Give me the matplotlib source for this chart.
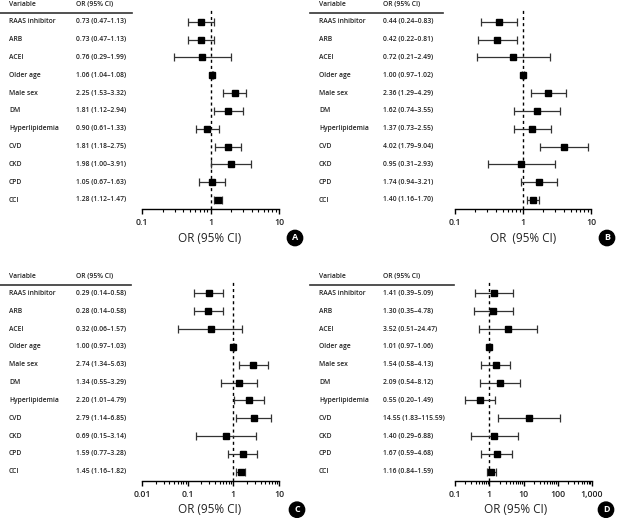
import matplotlib.pyplot as plt
import matplotlib.transforms as mtransforms
from matplotlib.lines import Line2D
from matplotlib.ticker import LogLocator, NullFormatter, FixedLocator, FixedFormatter

variables = ["RAAS inhibitor", "ARB", "ACEI", "Older age", "Male sex", "DM",
             "Hyperlipidemia", "CVD", "CKD", "CPD", "CCI"]

or_a = [0.73, 0.73, 0.76, 1.06, 2.25, 1.81, 0.90, 1.81, 1.98, 1.05, 1.28]
lo_a = [0.47, 0.47, 0.29, 1.04, 1.53, 1.12, 0.61, 1.18, 1.00, 0.67, 1.12]
hi_a = [1.13, 1.13, 1.99, 1.08, 3.32, 2.94, 1.33, 2.75, 3.91, 1.63, 1.47]

or_b = [0.44, 0.42, 0.72, 1.00, 2.36, 1.62, 1.37, 4.02, 0.95, 1.74, 1.40]
lo_b = [0.24, 0.22, 0.21, 0.97, 1.29, 0.74, 0.73, 1.79, 0.31, 0.94, 1.16]
hi_b = [0.83, 0.81, 2.49, 1.02, 4.29, 3.55, 2.55, 9.04, 2.93, 3.21, 1.70]

or_c = [0.29, 0.28, 0.32, 1.00, 2.74, 1.34, 2.20, 2.79, 0.69, 1.59, 1.45]
lo_c = [0.14, 0.14, 0.06, 0.97, 1.34, 0.55, 1.01, 1.14, 0.15, 0.77, 1.16]
hi_c = [0.58, 0.58, 1.57, 1.03, 5.63, 3.29, 4.79, 6.85, 3.14, 3.28, 1.82]

or_d = [1.41, 1.30, 3.52, 1.01, 1.54, 2.09, 0.55, 14.55, 1.40, 1.67, 1.16]
lo_d = [0.39, 0.35, 0.51, 0.97, 0.58, 0.54, 0.20, 1.83, 0.29, 0.59, 0.84]
hi_d = [5.09, 4.78, 24.47, 1.06, 4.13, 8.12, 1.49, 115.59, 6.88, 4.68, 1.59]

W, H = 617, 518
fig = plt.figure(figsize=(W / 100, H / 100), dpi=100)
plt.rcParams['font.family'] = ['Open Sans', 'DejaVu Sans']

label_font = dict(fontsize=4.9, fontweight='semibold', color='#222222')


def fx(px):
    return px / W


def fy(py):
    return 1 - py / H


def panel(letter, ors, los, his, x0, x1, dy, xlim, ticks, ticklabels,
          lab_x, or_x, line_x1, xlabel, xlabel_x, circ_x):
    row0 = 21.7 + dy
    step = 17.83
    axis_y = 209.3 + dy
    top_y = 9.0 + dy
    n = len(variables)
    ax = fig.add_axes([fx(x0), fy(axis_y), fx(x1) - fx(x0), (axis_y - top_y) / H])
    ax.set_xscale('log')
    ax.set_xlim(*xlim)
    ax.set_ylim((axis_y - row0) / step, -(row0 - top_y) / step)
    rows = list(range(n))
    xerr = [[o - l for o, l in zip(ors, los)], [h - o for o, h in zip(ors, his)]]
    ax.axvline(1, color='black', lw=1.0, ls=(0, (2.2, 2.2)), zorder=1)
    ax.errorbar(ors, rows, xerr=xerr, fmt='s', ms=4.4, color='black',
                ecolor='#333333', elinewidth=0.9, capsize=2.8, capthick=0.9, zorder=3)
    for s in ['top', 'right', 'left']:
        ax.spines[s].set_visible(False)
    ax.spines['bottom'].set_linewidth(1.0)
    ax.set_yticks([])
    ax.xaxis.set_major_locator(FixedLocator(ticks))
    ax.xaxis.set_major_formatter(FixedFormatter(ticklabels))
    ax.xaxis.set_minor_locator(LogLocator(base=10, subs=range(2, 10)))
    ax.xaxis.set_minor_formatter(NullFormatter())
    ax.tick_params(axis='x', which='major', length=3.5, width=1.0, pad=3,
                   labelsize=6.3, labelcolor='#222222')
    ax.tick_params(axis='x', which='minor', length=2, width=0.8)
    for t in ax.get_xticklabels():
        t.set_fontweight('semibold')
    ax.patch.set_alpha(0)

    tr = mtransforms.blended_transform_factory(fig.transFigure, ax.transData)
    for i, (v, o, l, h) in enumerate(zip(variables, ors, los, his)):
        fig.text(fx(lab_x), i, v, transform=tr, va='center', ha='left', **label_font)
        fig.text(fx(or_x), i, f"{o:.2f} ({l:.2f}\u2013{h:.2f})", transform=tr,
                 va='center', ha='left', **label_font)
    fig.text(fx(lab_x), fy(4.5 + dy), "Variable", va='center', ha='left', **label_font)
    fig.text(fx(or_x), fy(4.5 + dy), "OR (95% CI)", va='center', ha='left', **label_font)
    fig.add_artist(Line2D([fx(lab_x - 9), fx(line_x1)], [fy(13.3 + dy)] * 2,
                          color='#333333', lw=1.2))
    fig.text(fx(xlabel_x), fy(238 + dy), xlabel, ha='center', va='center',
             fontsize=8.5, color='#222222')
    fig.text(fx(circ_x), fy(238 + dy), letter, ha='center', va='center',
             fontsize=6.5, fontweight='bold', color='white',
             bbox=dict(boxstyle='circle,pad=0.35', fc='black', ec='black'))


panel("A", or_a, lo_a, hi_a, 142, 279, 0, (0.1, 10), [0.1, 1, 10], ["0.1", "1", "10"],
      9, 76, 132, "OR (95% CI)", 210, 295)
panel("B", or_b, lo_b, hi_b, 455, 591, 0, (0.1, 10), [0.1, 1, 10], ["0.1", "1", "10"],
      319, 383, 443, "OR  (95% CI)", 523, 607)
panel("C", or_c, lo_c, hi_c, 142, 279, 271.7, (0.01, 10), [0.01, 0.1, 1, 10],
      ["0.01", "0.1", "1", "10"], 9, 76, 131, "OR (95% CI)", 210, 297)
panel("D", or_d, lo_d, hi_d, 455, 592, 271.7, (0.1, 1000), [0.1, 1, 10, 100, 1000],
      ["0.1", "1", "10", "100", "1,000"], 319, 383, 454, "OR (95% CI)", 516, 606)

fig.savefig("out.png", dpi=100)
